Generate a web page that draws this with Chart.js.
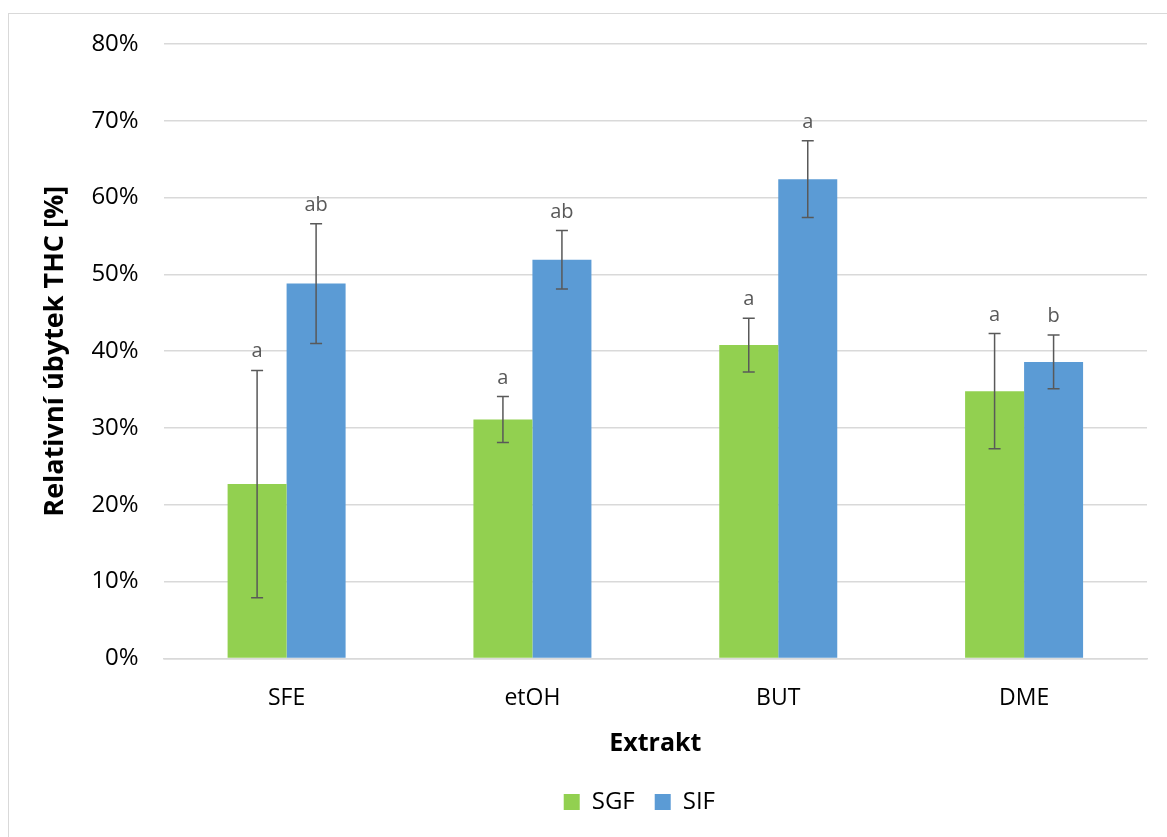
<!DOCTYPE html>
<html>
<head>
<meta charset="utf-8">
<script src="https://cdn.jsdelivr.net/npm/chart.js@4.4.0/dist/chart.umd.min.js"></script>
<style>
  html, body { margin: 0; padding: 0; background: #fff; overflow: hidden; }
  #wrap { position: relative; width: 1167px; height: 837px; }
  #frame { position: absolute; left: 8px; top: 13px; width: 1200px; height: 900px;
           border: 1px solid #d9d9d9; pointer-events: none; }
</style>
</head>
<body>
<div id="wrap">
  <canvas id="chart" width="1167" height="837"></canvas>
  <div id="frame"></div>
</div>
<script>
// data (values in %)
const categories = ['SFE', 'etOH', 'BUT', 'DME'];
const sgfValues = [22.7, 31.1, 40.8, 34.8];
const sifValues = [48.8, 51.9, 62.4, 38.6];
const sgfErrors = [14.8, 3.0, 3.5, 7.5];
const sifErrors = [7.8, 3.8, 5.0, 3.5];
const sgfLetters = ['a', 'a', 'a', 'a'];
const sifLetters = ['ab', 'ab', 'a', 'b'];

const FONT = "'Open Sans', sans-serif";

// draws error bars and the significance letters above them
const errorBarPlugin = {
    id: 'errorBars',
    afterDatasetsDraw(chart) {
        const ctx = chart.ctx;
        const y = chart.scales.y;
        const errs = [sgfErrors, sifErrors];
        const letters = [sgfLetters, sifLetters];
        ctx.save();
        chart.data.datasets.forEach((ds, di) => {
            const meta = chart.getDatasetMeta(di);
            meta.data.forEach((bar, i) => {
                const v = ds.data[i];
                const yTop = y.getPixelForValue(v + errs[di][i]);
                const yBot = y.getPixelForValue(v - errs[di][i]);
                const x = bar.x;
                ctx.strokeStyle = '#595959';
                ctx.lineWidth = 1.5;
                ctx.beginPath();
                ctx.moveTo(x, yTop); ctx.lineTo(x, yBot);
                ctx.moveTo(x - 6, yTop); ctx.lineTo(x + 6, yTop);
                ctx.moveTo(x - 6, yBot); ctx.lineTo(x + 6, yBot);
                ctx.stroke();
                ctx.fillStyle = '#595959';
                ctx.font = '20px ' + FONT;
                ctx.textAlign = 'center';
                ctx.textBaseline = 'alphabetic';
                ctx.fillText(letters[di][i], x, yTop - 13);
            });
        });
        ctx.restore();
    }
};

// legend in the original sits roughly centred under the plot area
const legendShift = {
    id: 'legendShift',
    afterLayout(chart) {
        const lg = chart.legend;
        const a = chart.chartArea;
        const d = (a.left + a.right) / 2 - (lg.left + lg.right) / 2 - 16;
        lg.left += d;
        lg.right += d;
    }
};

const ctx = document.getElementById('chart').getContext('2d');
new Chart(ctx, {
    type: 'bar',
    data: {
        labels: categories,
        datasets: [
            { label: 'SGF', data: sgfValues, backgroundColor: '#92d050' },
            { label: 'SIF', data: sifValues, backgroundColor: '#5b9bd5' }
        ]
    },
    options: {
        responsive: false,
        animation: false,
        categoryPercentage: 0.48,
        barPercentage: 1.0,
        layout: { padding: { left: 39, right: 20, top: 44, bottom: 13 } },
        scales: {
            x: {
                grid: { display: false, drawTicks: false },
                border: { color: '#d9d9d9', width: 1.5 },
                ticks: { color: '#000', font: { family: FONT, size: 23 }, padding: 26 },
                title: { display: true, text: 'Extrakt', color: '#000',
                         font: { family: FONT, size: 25, weight: 'bold' }, padding: { top: -9, bottom: 11 } }
            },
            y: {
                min: 0, max: 80,
                grid: { color: '#d9d9d9', lineWidth: 1.5, drawTicks: false },
                border: { display: false },
                ticks: { stepSize: 10, color: '#000', font: { family: FONT, size: 24 }, padding: 25,
                         callback: v => v + '%' },
                title: { display: true, text: 'Relativní úbytek THC [%]', color: '#000',
                         font: { family: FONT, size: 27, weight: 'bold' }, padding: { top: 0, bottom: -5 } }
            }
        },
        plugins: {
            legend: {
                position: 'bottom',
                labels: { color: '#000', font: { family: FONT, size: 24 }, boxWidth: 16, boxHeight: 16, padding: 20 }
            },
            tooltip: { enabled: false }
        }
    },
    plugins: [errorBarPlugin, legendShift]
});
</script>
</body>
</html>
